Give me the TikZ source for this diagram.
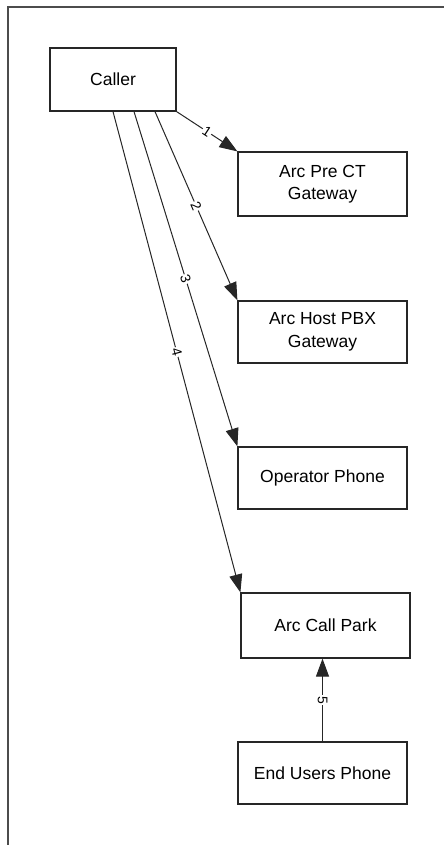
\documentclass[tikz,border=0pt]{standalone}
\usepackage{fontspec}
\setmainfont{Liberation Sans}
\usetikzlibrary{arrows.meta}
\begin{document}
\begin{tikzpicture}[x=1pt,y=-1pt,
  box/.style={draw=black!85, line width=1.2pt, fill=white, align=center,
    inner sep=0pt, font=\fontsize{17.5}{22.5}\selectfont},
  conn/.style={draw=black!85, line width=1pt, -{Triangle[length=18pt,width=13pt]}},
  lab/.style={fill=white, inner sep=1pt, font=\fontsize{14}{16}\selectfont}]
\useasboundingbox (0,0) rectangle (444,845);
\draw[draw=black!70, line width=1.8pt] (8,845) -- (8,7) -- (444,7);
\node[box, minimum width=126pt, minimum height=63pt] (caller) at (113,79.5) {Caller};
\node[box, minimum width=169pt, minimum height=64pt] (pre) at (322.5,184) {Arc Pre CT\\Gateway};
\node[box, minimum width=169pt, minimum height=62pt] (host) at (322.5,332) {Arc Host PBX\\Gateway};
\node[box, minimum width=169pt, minimum height=62pt] (op) at (322.5,478) {Operator Phone};
\node[box, minimum width=169pt, minimum height=65pt] (park) at (325.5,625.5) {Arc Call Park};
\node[box, minimum width=169pt, minimum height=62pt] (eu) at (322.5,773) {End Users Phone};
\draw[conn] (caller.south east) -- node[lab, sloped]{1} (pre.north west);
\draw[conn] ([xshift=42pt]caller.south) -- node[lab, sloped]{2} (host.north west);
\draw[conn] ([xshift=21pt]caller.south) -- node[lab, sloped]{3} (op.north west);
\draw[conn] (caller.south) -- node[lab, sloped]{4} (park.north west);
\draw[conn] (eu.north) -- node[lab, rotate=-90]{5} (eu.north |- park.south);
\end{tikzpicture}
\end{document}
